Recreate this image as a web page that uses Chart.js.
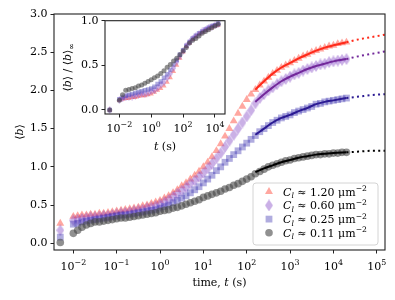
<!DOCTYPE html>
<html>
<head>
<meta charset="utf-8">
<script src="https://cdn.jsdelivr.net/npm/chart.js@4.4.0/dist/chart.umd.min.js"></script>
<style>
  html, body { margin: 0; padding: 0; background: #fff; }
  #wrap { position: relative; width: 395px; height: 300px; }
  #main { position: absolute; left: 0; top: 0; width: 395px; height: 300px; }
  #inset { position: absolute; left: 50px; top: 10px; width: 185px; height: 145px; }
</style>
</head>
<body>
<div id="wrap">
  <canvas id="main" width="395" height="300"></canvas>
  <canvas id="inset" width="185" height="145"></canvas>
</div>
<script>
// values
const times = [0.005,
  0.01, 0.0126, 0.0158, 0.02, 0.0251, 0.0316, 0.0398, 0.0501, 0.0631, 0.0794,
  0.1, 0.126, 0.158, 0.2, 0.251, 0.316, 0.398, 0.501, 0.631, 0.794,
  1, 1.26, 1.58, 2, 2.51, 3.16, 3.98, 5.01, 6.31, 7.94,
  10, 12.6, 15.8, 20, 25.1, 31.6, 39.8, 50.1, 63.1, 79.4,
  100, 126, 158, 200, 251, 316, 398, 501, 631, 794,
  1000, 1260, 1580, 2000, 2510, 3160, 3980, 5010, 6310, 7940,
  10000, 12600, 15800, 20000];

const bRed = [0.26,
  0.35, 0.36, 0.37, 0.37, 0.38, 0.38, 0.39, 0.39, 0.40, 0.41,
  0.42, 0.43, 0.44, 0.45, 0.46, 0.47, 0.49, 0.50, 0.52, 0.54,
  0.56, 0.59, 0.62, 0.66, 0.70, 0.75, 0.79, 0.84, 0.89, 0.94,
  1.00, 1.06, 1.13, 1.21, 1.30, 1.40, 1.50, 1.60, 1.70, 1.79,
  1.88, 1.95, 2.01, 2.07, 2.12, 2.17, 2.22, 2.26, 2.30, 2.33,
  2.36, 2.39, 2.42, 2.45, 2.47, 2.50, 2.52, 2.54, 2.56, 2.58,
  2.59, 2.61, 2.62, 2.63];
const bPurple = [0.17,
  0.30, 0.31, 0.32, 0.33, 0.34, 0.34, 0.35, 0.36, 0.36, 0.37,
  0.38, 0.39, 0.40, 0.41, 0.42, 0.43, 0.44, 0.46, 0.47, 0.49,
  0.51, 0.54, 0.57, 0.61, 0.65, 0.69, 0.73, 0.78, 0.82, 0.87,
  0.92, 0.98, 1.04, 1.11, 1.18, 1.26, 1.34, 1.42, 1.50, 1.58,
  1.66, 1.74, 1.83, 1.90, 1.95, 2.00, 2.04, 2.08, 2.12, 2.15,
  2.18, 2.21, 2.23, 2.26, 2.28, 2.30, 2.32, 2.34, 2.35, 2.37,
  2.38, 2.39, 2.40, 2.41];
const bBlue = [0.08,
  0.25, 0.26, 0.28, 0.29, 0.30, 0.31, 0.32, 0.33, 0.34, 0.35,
  0.36, 0.37, 0.37, 0.38, 0.39, 0.40, 0.41, 0.42, 0.43, 0.44,
  0.46, 0.48, 0.50, 0.53, 0.56, 0.59, 0.62, 0.66, 0.70, 0.74,
  0.79, 0.84, 0.89, 0.95, 1.00, 1.06, 1.11, 1.16, 1.21, 1.26,
  1.31, 1.36, 1.41, 1.46, 1.50, 1.54, 1.58, 1.61, 1.64, 1.66,
  1.68, 1.71, 1.73, 1.75, 1.77, 1.79, 1.82, 1.83, 1.85, 1.86,
  1.87, 1.88, 1.89, 1.90];
const bGray = [0.01,
  0.13, 0.17, 0.21, 0.24, 0.26, 0.28, 0.28, 0.29, 0.30, 0.31,
  0.32, 0.33, 0.33, 0.34, 0.35, 0.36, 0.37, 0.38, 0.39, 0.40,
  0.42, 0.43, 0.44, 0.46, 0.47, 0.49, 0.51, 0.53, 0.55, 0.57,
  0.60, 0.62, 0.64, 0.66, 0.68, 0.71, 0.73, 0.76, 0.78, 0.81,
  0.84, 0.87, 0.91, 0.94, 0.97, 1.00, 1.02, 1.04, 1.06, 1.08,
  1.09, 1.11, 1.12, 1.13, 1.14, 1.15, 1.16, 1.16, 1.17, 1.17,
  1.18, 1.18, 1.19, 1.19];

// fitted curves (solid) and their extrapolation (dotted)
const fitTimes = [158, 251, 398, 631, 1000, 1580, 2510, 3980, 6310, 10000, 20000];
const fitRed = [2.01, 2.12, 2.22, 2.30, 2.36, 2.42, 2.47, 2.52, 2.56, 2.59, 2.63];
const fitPurple = [1.85, 1.95, 2.04, 2.12, 2.18, 2.23, 2.28, 2.32, 2.35, 2.38, 2.41];
const fitBlue = [1.42, 1.50, 1.58, 1.64, 1.68, 1.73, 1.77, 1.82, 1.85, 1.87, 1.90];
const fitGray = [0.93, 0.98, 1.02, 1.06, 1.09, 1.12, 1.14, 1.16, 1.17, 1.18, 1.19];
const extTimes = [20000, 39800, 79400, 155000];
const extRed = [2.63, 2.67, 2.70, 2.73];
const extPurple = [2.41, 2.45, 2.48, 2.51];
const extBlue = [1.90, 1.92, 1.94, 1.95];
const extGray = [1.19, 1.20, 1.21, 1.21];

// inset: normalised <b>/<b>_inf
const insetTimes = [0.0025,
  0.01, 0.0158, 0.0251, 0.0398, 0.0631, 0.1, 0.158, 0.251, 0.398, 0.631,
  1, 1.58, 2.51, 3.98, 6.31, 10, 15.8, 25.1, 39.8, 63.1,
  100, 158, 251, 398, 631, 1000, 1580, 2510, 3980, 6310, 10000, 15800];
const nRed = [0, 0.11, 0.12, 0.13, 0.13, 0.14, 0.14, 0.15, 0.16, 0.16, 0.17,
  0.18, 0.20, 0.22, 0.24, 0.27, 0.31, 0.36, 0.43, 0.50, 0.58,
  0.65, 0.71, 0.75, 0.79, 0.82, 0.85, 0.87, 0.89, 0.91, 0.92, 0.94, 0.95];
const nPurple = [0, 0.11, 0.13, 0.14, 0.15, 0.15, 0.16, 0.17, 0.18, 0.18, 0.19,
  0.21, 0.22, 0.25, 0.28, 0.31, 0.36, 0.41, 0.47, 0.54, 0.60,
  0.66, 0.72, 0.76, 0.80, 0.83, 0.85, 0.88, 0.90, 0.92, 0.93, 0.95, 0.96];
const nBlue = [0, 0.12, 0.14, 0.16, 0.17, 0.18, 0.19, 0.20, 0.21, 0.22, 0.23,
  0.24, 0.26, 0.29, 0.32, 0.36, 0.40, 0.45, 0.51, 0.56, 0.62,
  0.67, 0.72, 0.76, 0.80, 0.83, 0.86, 0.88, 0.90, 0.92, 0.94, 0.95, 0.97];
const nGray = [0, 0.11, 0.17, 0.22, 0.23, 0.24, 0.25, 0.27, 0.28, 0.30, 0.32,
  0.34, 0.36, 0.38, 0.41, 0.44, 0.48, 0.51, 0.55, 0.58, 0.62,
  0.66, 0.70, 0.75, 0.78, 0.80, 0.83, 0.86, 0.88, 0.90, 0.92, 0.94, 0.96];

const concLabels = ['1.20', '0.60', '0.25', '0.11'];
const xTicks = [1e-2, 1e-1, 1, 10, 100, 1000, 1e4, 1e5];
const yTicks = [0, 0.5, 1, 1.5, 2, 2.5, 3];
const insetXTicks = [1e-2, 1, 100, 1e4];
const insetYTicks = [0, 0.5, 1];

const FONT = "'DejaVu Serif', serif";
const FS = 11;

function diamond(w, h, color) {
  const c = document.createElement('canvas');
  c.width = w; c.height = h;
  const g = c.getContext('2d');
  g.fillStyle = color;
  g.beginPath();
  g.moveTo(w / 2, 0); g.lineTo(w, h / 2); g.lineTo(w / 2, h); g.lineTo(0, h / 2);
  g.closePath(); g.fill();
  return c;
}

const purpleFill = 'rgba(138,79,200,0.45)';
const series = [
  { data: bRed, norm: nRed, fit: fitRed, ext: extRed, fill: 'rgba(255,60,45,0.45)', line: '#ff2a1a',
    shape: 'triangle', shapeSmall: 'triangle', r: 4.6, ri: 3 },
  { data: bPurple, norm: nPurple, fit: fitPurple, ext: extPurple, fill: purpleFill, line: '#72289a',
    shape: diamond(8, 12, purpleFill), shapeSmall: diamond(5, 8, purpleFill), r: 4, ri: 3 },
  { data: bBlue, norm: nBlue, fit: fitBlue, ext: extBlue, fill: 'rgba(58,48,176,0.4)', line: '#2b1a92',
    shape: 'rect', shapeSmall: 'rect', r: 4.8, ri: 3.2 },
  { data: bGray, norm: nGray, fit: fitGray, ext: extGray, fill: 'rgba(70,70,70,0.6)', line: '#000',
    shape: 'circle', shapeSmall: 'circle', r: 3.8, ri: 2.5 }
];

const pts = (xs, ys) => xs.map((x, i) => ({ x, y: ys[i] }));

// text with italic / sub / superscript pieces: [text, italic, scale, dy]
function rich(ctx, parts, x, y, size, align) {
  const fonts = parts.map(p => (p[1] ? 'italic ' : '') + (size * (p[2] || 1)).toFixed(1) + 'px ' + FONT);
  let w = 0;
  parts.forEach((p, i) => { ctx.font = fonts[i]; w += ctx.measureText(p[0]).width; });
  let cx = align === 'center' ? x - w / 2 : align === 'right' ? x - w : x;
  ctx.textAlign = 'left';
  ctx.textBaseline = 'alphabetic';
  ctx.fillStyle = '#000';
  parts.forEach((p, i) => {
    ctx.font = fonts[i];
    ctx.fillText(p[0], cx, y + (p[3] || 0));
    cx += ctx.measureText(p[0]).width;
  });
}

function expParts(v) {
  const e = Math.round(Math.log10(v));
  return [['10'], [e < 0 ? '\u2212' + (-e) : String(e), false, 0.72, -4.5]];
}

function drawMarker(ctx, s, x, y) {
  ctx.fillStyle = s.fill;
  const r = s.r;
  ctx.beginPath();
  if (s.shape === 'triangle') {
    ctx.moveTo(x, y - r);
    ctx.lineTo(x + r * 0.866, y + r / 2);
    ctx.lineTo(x - r * 0.866, y + r / 2);
    ctx.closePath(); ctx.fill();
  } else if (s.shape === 'rect') {
    const h = r * Math.SQRT1_2;
    ctx.fillRect(x - h, y - h, 2 * h, 2 * h);
  } else if (s.shape === 'circle') {
    ctx.arc(x, y, r, 0, Math.PI * 2); ctx.fill();
  } else {
    ctx.drawImage(s.shape, x - s.shape.width / 2, y - s.shape.height / 2);
  }
}

function logAxis(min, max, ticks, h) {
  return {
    type: 'logarithmic', min, max,
    afterBuildTicks: sc => { sc.ticks = ticks.map(v => ({ value: v })); },
    afterFit: sc => { sc.height = h; sc.paddingLeft = 0; sc.paddingRight = 0; },
    ticks: { display: false, autoSkip: false },
    grid: { drawOnChartArea: false, tickLength: 3.5, tickColor: '#222', tickWidth: 1 },
    border: { display: false }
  };
}

function linAxis(min, max, ticks, w) {
  return {
    type: 'linear', min, max,
    afterBuildTicks: sc => { sc.ticks = ticks.map(v => ({ value: v })); },
    afterFit: sc => { sc.width = w; sc.paddingTop = 0; sc.paddingBottom = 0; },
    ticks: { autoSkip: false, padding: 3, color: '#000', font: { family: FONT, size: FS },
      callback: v => v.toFixed(1) },
    grid: { drawOnChartArea: false, tickLength: 3.5, tickColor: '#222', tickWidth: 1 },
    border: { display: false }
  };
}

function frame(chart) {
  const a = chart.chartArea, ctx = chart.ctx;
  ctx.save();
  ctx.strokeStyle = '#222';
  ctx.lineWidth = 1.1;
  ctx.strokeRect(a.left, a.top, a.right - a.left, a.bottom - a.top);
  ctx.restore();
}

const whiteBg = {
  id: 'whiteBg',
  beforeDraw(chart) {
    const a = chart.chartArea, ctx = chart.ctx;
    ctx.save();
    ctx.fillStyle = '#fff';
    ctx.fillRect(a.left, a.top, a.right - a.left, a.bottom - a.top);
    ctx.restore();
  }
};

const mainDecor = {
  id: 'mainDecor',
  afterDraw(chart) {
    const a = chart.chartArea, ctx = chart.ctx, xs = chart.scales.x;
    frame(chart);
    ctx.save();
    xTicks.forEach(v => rich(ctx, expParts(v), xs.getPixelForValue(v), a.bottom + 19.5, FS, 'center'));
    rich(ctx, [['time, '], ['t', true], [' (s)']], (a.left + a.right) / 2, 286, FS, 'center');
    ctx.save();
    ctx.translate(23, (a.top + a.bottom) / 2);
    ctx.rotate(-Math.PI / 2);
    rich(ctx, [['\u27E8'], ['b', true], ['\u27E9']], 0, 0, FS, 'center');
    ctx.restore();

    // legend
    const bx = 253, by = 183, bw = 125, bh = 62;
    ctx.beginPath();
    ctx.roundRect(bx, by, bw, bh, 3);
    ctx.fillStyle = 'rgba(255,255,255,0.8)';
    ctx.fill();
    ctx.strokeStyle = '#d4d4d4';
    ctx.lineWidth = 1;
    ctx.stroke();
    series.forEach((s, i) => {
      const y = 191.7 + i * 13.7;
      drawMarker(ctx, s, 269, y);
      rich(ctx, [['C', true], ['l', true, 0.7, 2.5], [' \u2248 ' + concLabels[i] + ' \u03BCm'],
        ['\u22122', false, 0.7, -4.5]], 283, y + 4, FS, 'left');
    });
    ctx.restore();
  }
};

const insetDecor = {
  id: 'insetDecor',
  afterDraw(chart) {
    const a = chart.chartArea, ctx = chart.ctx, xs = chart.scales.x;
    frame(chart);
    ctx.save();
    insetXTicks.forEach(v => rich(ctx, expParts(v), xs.getPixelForValue(v), a.bottom + 17.5, FS, 'center'));
    rich(ctx, [['t', true], [' (s)']], (a.left + a.right) / 2, a.bottom + 36, FS, 'center');
    ctx.translate(21, (a.top + a.bottom) / 2);
    ctx.rotate(-Math.PI / 2);
    rich(ctx, [['\u27E8'], ['b', true], ['\u27E9 / \u27E8'], ['b', true], ['\u27E9'], ['\u221E', false, 0.72, 3]],
      0, 0, FS, 'center');
    ctx.restore();
  }
};

// main chart
const mainSets = [];
series.forEach((s, i) => {
  mainSets.push({ data: pts(times, s.data), showLine: false, pointStyle: s.shape, pointRadius: s.r,
    pointBackgroundColor: s.fill, pointBorderWidth: 0, order: 4 - i });
  mainSets.push({ data: pts(fitTimes, s.fit), showLine: true, borderColor: s.line, borderWidth: 2,
    cubicInterpolationMode: 'monotone', pointRadius: 0, order: 0 });
  mainSets.push({ data: pts(extTimes, s.ext), showLine: true, borderColor: s.line, borderWidth: 2,
    borderDash: [2, 3.3], cubicInterpolationMode: 'monotone', pointRadius: 0, order: 0 });
});

new Chart(document.getElementById('main'), {
  type: 'scatter',
  data: { datasets: mainSets },
  options: {
    responsive: false,
    animation: false,
    devicePixelRatio: 1,
    layout: { padding: { top: 14, right: 10, left: 0, bottom: 0 } },
    plugins: { legend: { display: false }, tooltip: { enabled: false } },
    scales: {
      x: logAxis(0.00358, 155000, xTicks, 50),
      y: linAxis(-0.088, 3.0, yTicks, 54)
    }
  },
  plugins: [whiteBg, mainDecor]
});

// inset chart
const insetSets = series.map((s, i) => ({
  data: pts(insetTimes, s.norm), showLine: false, pointStyle: s.shapeSmall, pointRadius: s.ri,
  pointBackgroundColor: s.fill, pointBorderWidth: 0, order: 4 - i
}));

new Chart(document.getElementById('inset'), {
  type: 'scatter',
  data: { datasets: insetSets },
  options: {
    responsive: false,
    animation: false,
    devicePixelRatio: 1,
    layout: { padding: { top: 10.7, right: 10, left: 0, bottom: 0 } },
    plugins: { legend: { display: false }, tooltip: { enabled: false } },
    scales: {
      x: logAxis(0.00126, 42400, insetXTicks, 41),
      y: linAxis(-0.045, 1.0, insetYTicks, 55)
    }
  },
  plugins: [whiteBg, insetDecor]
});
</script>
</body>
</html>
